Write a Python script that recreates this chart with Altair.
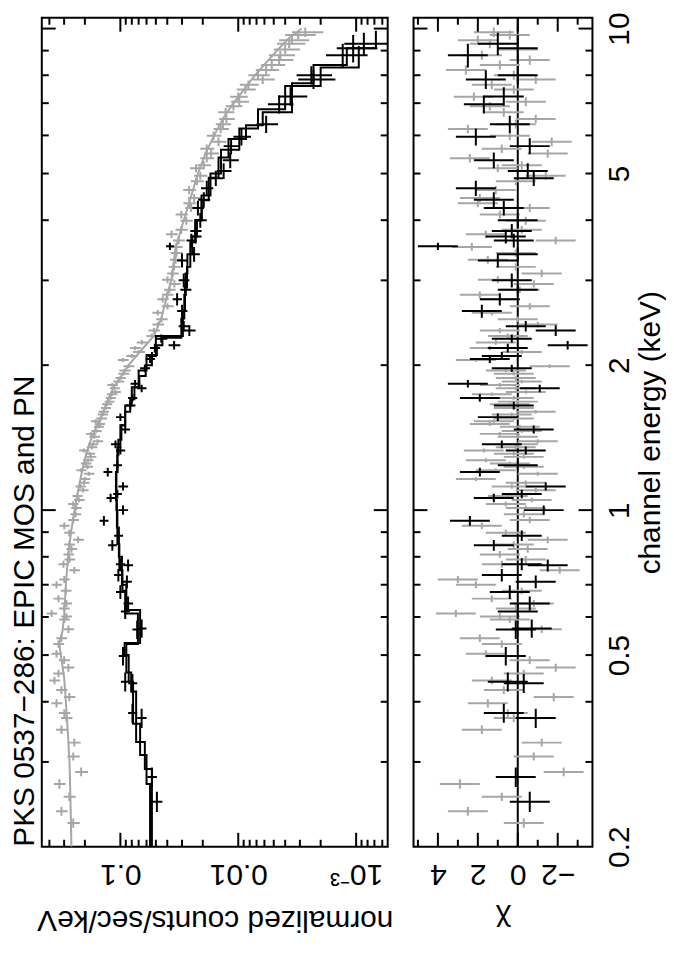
import altair as alt
import pandas as pd

FONT = "Liberation Sans"
FS = 30
GREY = "#a6a6a6"
BLACK = "#000000"

TITLE = "PKS 0537\u2212286: EPIC MOS and PN"
X_TITLE = "normalized counts/sec/keV"
CHI_TITLE = "\u03c7"
E_TITLE = "channel energy (keV)"

# axis ranges
E_DOMAIN = [0.2, 10.53]
C_DOMAIN = [0.00054, 0.464]
CHI_DOMAIN = [-3.74, 5.22]

# tick values
C_MAJOR = [0.1, 0.01, 0.001]
C_MINOR = [0.4, 0.3, 0.2, 0.09, 0.08, 0.07, 0.06, 0.05, 0.04, 0.03, 0.02,
           0.009, 0.008, 0.007, 0.006, 0.005, 0.004, 0.003, 0.002,
           0.0009, 0.0008, 0.0007, 0.0006]
E_MAJOR = [1, 10]
E_MINOR = [0.3, 0.4, 0.5, 0.6, 0.7, 0.8, 0.9, 2, 3, 4, 5, 6, 7, 8, 9]
E_LABELS = [0.2, 0.5, 1, 2, 5, 10]
CHI_MAJOR = [4, 2, 0, -2]
CHI_MINOR = [5, 3, 1, -1, -3]

# PN (grey) data: energy keV, half bin width, counts, counts error, chi
GREY_DATA = [
    (0.224, 0.005, 0.251, 0.030, -0.3), (0.237, 0.005, 0.316, 0.036, 2.5),
    (0.254, 0.005, 0.271, 0.032, 0.8), (0.270, 0.006, 0.329, 0.037, 2.9),
    (0.286, 0.006, 0.215, 0.027, -2.3), (0.308, 0.006, 0.251, 0.030, -0.8),
    (0.329, 0.006, 0.246, 0.029, -1.2), (0.350, 0.007, 0.316, 0.035, 1.8),
    (0.370, 0.007, 0.287, 0.032, 0.2), (0.379, 0.007, 0.299, 0.033, 0.5),
    (0.397, 0.008, 0.348, 0.037, 1.5), (0.409, 0.008, 0.271, 0.030, -1.8),
    (0.423, 0.008, 0.316, 0.034, 0.7), (0.443, 0.008, 0.362, 0.038, 1.3),
    (0.458, 0.008, 0.335, 0.036, -0.3), (0.471, 0.009, 0.276, 0.030, -1.9),
    (0.488, 0.009, 0.300, 0.032, -0.6), (0.503, 0.009, 0.348, 0.036, 1.6),
    (0.527, 0.009, 0.335, 0.035, 0.8), (0.542, 0.010, 0.316, 0.033, 1.9),
    (0.566, 0.010, 0.276, 0.029, -1.2), (0.593, 0.010, 0.299, 0.031, 0.4),
    (0.601, 0.010, 0.287, 0.030, 0.9), (0.610, 0.010, 0.383, 0.039, 3.1),
    (0.625, 0.010, 0.300, 0.031, 0.1), (0.640, 0.011, 0.287, 0.030, -0.8),
    (0.655, 0.011, 0.335, 0.034, 1.3), (0.680, 0.011, 0.290, 0.030, -0.2),
    (0.700, 0.012, 0.348, 0.035, 2.1), (0.718, 0.012, 0.299, 0.030, 3.0),
    (0.750, 0.012, 0.246, 0.026, -2.1), (0.772, 0.013, 0.304, 0.031, 0.8),
    (0.790, 0.013, 0.270, 0.028, -0.4), (0.809, 0.013, 0.276, 0.028, 0.9),
    (0.830, 0.014, 0.260, 0.027, -0.5), (0.848, 0.014, 0.271, 0.028, 0.2),
    (0.868, 0.014, 0.228, 0.024, -1.5), (0.897, 0.015, 0.271, 0.028, 0.6),
    (0.928, 0.015, 0.299, 0.030, 1.8), (0.954, 0.015, 0.251, 0.026, -0.6),
    (0.980, 0.015, 0.240, 0.025, -0.3), (1.010, 0.012, 0.237, 0.024, -0.4),
    (1.030, 0.012, 0.252, 0.025, 0.6), (1.050, 0.012, 0.224, 0.023, -0.7),
    (1.070, 0.012, 0.232, 0.023, 0.5), (1.100, 0.012, 0.207, 0.021, -0.9),
    (1.120, 0.012, 0.218, 0.022, 0.3), (1.140, 0.012, 0.204, 0.021, -0.4),
    (1.160, 0.012, 0.200, 0.020, 2.1), (1.190, 0.012, 0.185, 0.019, -1.0),
    (1.210, 0.012, 0.215, 0.021, 1.1), (1.230, 0.012, 0.190, 0.019, -0.3),
    (1.250, 0.012, 0.196, 0.020, 0.4), (1.270, 0.012, 0.188, 0.019, 1.6),
    (1.290, 0.012, 0.178, 0.018, -0.3), (1.310, 0.012, 0.182, 0.018, 0.2),
    (1.330, 0.013, 0.204, 0.020, 1.7), (1.350, 0.013, 0.175, 0.018, 0.1),
    (1.370, 0.013, 0.171, 0.017, 0.0), (1.390, 0.013, 0.156, 0.016, -1.0),
    (1.420, 0.013, 0.166, 0.017, 0.0), (1.440, 0.013, 0.178, 0.018, 0.9),
    (1.460, 0.013, 0.160, 0.016, -0.2), (1.490, 0.013, 0.153, 0.015, -0.1),
    (1.510, 0.014, 0.150, 0.015, 1.4), (1.530, 0.014, 0.162, 0.016, 1.2),
    (1.550, 0.014, 0.145, 0.015, 0.2), (1.580, 0.014, 0.141, 0.014, 0.3),
    (1.600, 0.014, 0.139, 0.014, -0.9), (1.630, 0.014, 0.133, 0.013, 0.2),
    (1.660, 0.014, 0.130, 0.013, 0.4), (1.680, 0.015, 0.124, 0.012, 0.0),
    (1.710, 0.015, 0.121, 0.012, 0.2), (1.740, 0.015, 0.118, 0.012, 1.3),
    (1.760, 0.015, 0.110, 0.011, -0.4), (1.790, 0.015, 0.112, 0.011, 0.1),
    (1.820, 0.016, 0.117, 0.012, 0.9), (1.850, 0.016, 0.104, 0.011, -0.2),
    (1.880, 0.016, 0.100, 0.010, 0.1), (1.920, 0.017, 0.094, 0.010, 0.2),
    (1.950, 0.017, 0.092, 0.010, 0.6), (1.990, 0.018, 0.085, 0.009, -1.6),
    (2.050, 0.020, 0.095, 0.010, 2.1), (2.090, 0.020, 0.080, 0.009, 0.8),
    (2.130, 0.020, 0.070, 0.008, -0.2), (2.170, 0.022, 0.075, 0.008, 1.4),
    (2.230, 0.025, 0.0656, 0.0072, 1.1), (2.300, 0.028, 0.0541, 0.0060, 0.5),
    (2.360, 0.030, 0.0520, 0.0058, 0.9), (2.430, 0.032, 0.0480, 0.0054, -1.0),
    (2.490, 0.035, 0.0447, 0.0050, 0.0), (2.570, 0.035, 0.0482, 0.0053, 1.3),
    (2.650, 0.040, 0.0398, 0.0045, -0.6), (2.740, 0.040, 0.0438, 0.0049, 0.9),
    (2.800, 0.045, 0.0400, 0.0045, 1.9), (2.870, 0.045, 0.0383, 0.0043, -0.1),
    (2.950, 0.050, 0.0348, 0.0040, -0.8), (3.010, 0.050, 0.0398, 0.0045, 1.0),
    (3.100, 0.055, 0.0360, 0.0041, -1.2), (3.200, 0.055, 0.0350, 0.0040, 0.1),
    (3.310, 0.060, 0.0340, 0.0039, 1.5), (3.420, 0.060, 0.0335, 0.0039, 0.1),
    (3.520, 0.065, 0.0335, 0.0039, 2.3), (3.630, 0.065, 0.0320, 0.0037, -1.9),
    (3.740, 0.070, 0.0368, 0.0042, 1.6), (3.820, 0.070, 0.0304, 0.0036, -0.2),
    (3.990, 0.075, 0.0276, 0.0033, -0.4), (4.110, 0.075, 0.0304, 0.0036, 0.9),
    (4.240, 0.080, 0.0251, 0.0031, -0.6), (4.340, 0.080, 0.0260, 0.0032, 2.0),
    (4.450, 0.085, 0.0237, 0.0030, 1.9), (4.620, 0.090, 0.0261, 0.0032, 1.1),
    (4.820, 0.090, 0.0224, 0.0028, 0.1), (4.950, 0.095, 0.0210, 0.0027, -1.4),
    (5.130, 0.100, 0.0228, 0.0029, 1.0), (5.200, 0.100, 0.0196, 0.0026, -0.2),
    (5.380, 0.110, 0.0185, 0.0025, 2.4), (5.500, 0.110, 0.0170, 0.0024, -1.5),
    (5.630, 0.115, 0.0185, 0.0025, 0.8), (5.820, 0.120, 0.0147, 0.0021, -1.7),
    (5.990, 0.120, 0.0162, 0.0023, 0.4), (6.190, 0.125, 0.0141, 0.0021, 2.5),
    (6.330, 0.130, 0.0135, 0.0020, 0.1), (6.490, 0.130, 0.0126, 0.0019, -0.9),
    (6.700, 0.140, 0.0128, 0.0020, 0.7), (6.900, 0.140, 0.0110, 0.0018, 1.4),
    (7.050, 0.150, 0.0098, 0.0017, -0.4), (7.220, 0.150, 0.0100, 0.0017, 2.2),
    (7.470, 0.160, 0.0087, 0.0016, 0.2), (7.640, 0.160, 0.0082, 0.0015, 1.3),
    (7.840, 0.170, 0.0062, 0.0013, -0.9), (8.000, 0.170, 0.0068, 0.0014, 0.2),
    (8.200, 0.180, 0.0058, 0.0013, 2.6), (8.400, 0.180, 0.0052, 0.0012, 0.9),
    (8.600, 0.190, 0.0045, 0.0011, -0.6), (8.800, 0.190, 0.0044, 0.0011, 1.8),
    (9.050, 0.200, 0.0040, 0.0010, 0.0), (9.300, 0.200, 0.0037, 0.0010, 1.4),
    (9.460, 0.210, 0.0035, 0.0010, 2.0), (9.700, 0.210, 0.0031, 0.0009, 0.4),
    (9.830, 0.220, 0.0027, 0.0008, 1.2),
]

# PN model curve
GREY_MODEL_E = [0.2, 0.25, 0.3, 0.35, 0.4, 0.45, 0.5, 0.53, 0.56, 0.6, 0.7, 0.8,
                0.9, 1.0, 1.1, 1.2, 1.3, 1.4, 1.5, 1.6, 1.7, 1.8, 1.9, 2.0, 2.1,
                2.2, 2.3, 2.5, 2.8, 3.0, 3.5, 4.0, 4.5, 5.0, 5.5, 6.0, 6.5, 7.0,
                7.5, 8.0, 8.5, 9.0, 9.5, 10.0]
GREY_MODEL_C = [0.26, 0.265, 0.27, 0.28, 0.29, 0.30, 0.32, 0.33, 0.31, 0.30, 0.29,
                0.278, 0.262, 0.245, 0.228, 0.212, 0.196, 0.178, 0.158, 0.14,
                0.127, 0.114, 0.098, 0.085, 0.072, 0.061, 0.052, 0.045, 0.040,
                0.037, 0.034, 0.029, 0.025, 0.022, 0.019, 0.016, 0.0135, 0.011,
                0.0088, 0.0072, 0.0058, 0.0047, 0.0038, 0.0029]

# MOS (black) data: energy keV, half bin width, counts, counts error, chi
BLACK_DATA = [
    (0.248, 0.012, 0.049, 0.005, -0.6), (0.279, 0.013, 0.054, 0.005, 0.1),
    (0.370, 0.017, 0.066, 0.006, -0.9), (0.379, 0.017, 0.079, 0.007, 0.7),
    (0.437, 0.020, 0.079, 0.007, -0.3), (0.440, 0.020, 0.091, 0.008, 0.5),
    (0.498, 0.022, 0.095, 0.008, 0.6), (0.565, 0.025, 0.072, 0.007, 0.1),
    (0.568, 0.025, 0.066, 0.006, -0.7), (0.616, 0.022, 0.091, 0.008, 0.0),
    (0.640, 0.022, 0.086, 0.008, -0.6), (0.676, 0.022, 0.100, 0.009, 0.4),
    (0.710, 0.022, 0.088, 0.008, -0.9), (0.733, 0.022, 0.104, 0.009, 0.8),
    (0.768, 0.022, 0.086, 0.008, -1.5), (0.772, 0.022, 0.100, 0.009, -0.2),
    (0.845, 0.022, 0.117, 0.010, 1.2), (0.885, 0.022, 0.104, 0.009, -0.2),
    (0.950, 0.022, 0.138, 0.012, 2.4), (1.000, 0.022, 0.095, 0.009, -1.3),
    (1.060, 0.022, 0.121, 0.010, 1.2), (1.080, 0.022, 0.106, 0.009, -0.2),
    (1.120, 0.022, 0.095, 0.009, -1.4), (1.200, 0.025, 0.128, 0.011, 1.9),
    (1.240, 0.025, 0.106, 0.009, 0.0), (1.330, 0.025, 0.100, 0.009, -0.4),
    (1.370, 0.025, 0.110, 0.010, 0.8), (1.470, 0.028, 0.091, 0.008, -0.8),
    (1.560, 0.028, 0.100, 0.009, 1.0), (1.650, 0.030, 0.0825, 0.008, 0.2),
    (1.710, 0.030, 0.079, 0.007, 1.9), (1.790, 0.032, 0.066, 0.006, -1.1),
    (1.830, 0.032, 0.075, 0.007, 2.5), (1.970, 0.035, 0.062, 0.006, 0.3),
    (2.060, 0.040, 0.056, 0.005, 1.4), (2.090, 0.040, 0.054, 0.005, 0.8),
    (2.170, 0.045, 0.051, 0.005, 0.5), (2.200, 0.045, 0.035, 0.004, -2.5),
    (2.270, 0.045, 0.045, 0.005, 0.3), (2.360, 0.060, 0.026, 0.003, -1.9),
    (2.410, 0.060, 0.029, 0.003, -0.4), (2.590, 0.080, 0.030, 0.003, 1.8),
    (2.740, 0.080, 0.033, 0.003, 0.9), (2.870, 0.090, 0.028, 0.003, 0.0),
    (3.000, 0.100, 0.029, 0.003, 0.3), (3.300, 0.110, 0.030, 0.003, 1.0),
    (3.400, 0.120, 0.0237, 0.0025, 0.0), (3.530, 0.060, 0.038, 0.003, 4.0),
    (3.630, 0.120, 0.025, 0.0025, 0.2), (3.700, 0.120, 0.023, 0.0025, 0.6),
    (3.800, 0.130, 0.023, 0.0025, 0.3), (4.000, 0.140, 0.021, 0.0025, 0.0),
    (4.240, 0.150, 0.022, 0.0025, 0.7), (4.410, 0.160, 0.0196, 0.0023, 1.2),
    (4.660, 0.170, 0.0185, 0.0022, 2.1), (4.890, 0.180, 0.0155, 0.0020, -0.8),
    (5.060, 0.190, 0.0133, 0.0019, -0.5), (5.330, 0.200, 0.0117, 0.0018, 1.2),
    (5.700, 0.220, 0.0115, 0.0018, -0.6), (5.960, 0.240, 0.0094, 0.0016, 2.1),
    (6.330, 0.260, 0.0058, 0.0012, 0.4), (6.960, 0.300, 0.0045, 0.0011, 1.7),
    (7.230, 0.320, 0.0036, 0.0010, 0.7), (7.840, 0.350, 0.0023, 0.0008, 1.6),
    (8.000, 0.350, 0.0024, 0.0008, 0.0), (8.800, 0.500, 0.0013, 0.0005, 2.5),
    (9.100, 0.600, 0.00106, 0.0004, 0.0), (9.300, 0.500, 0.00086, 0.0004, 1.0),
]

# MOS folded models (step histograms): bin edges and values
M1_EDGES = [0.20, 0.29, 0.33, 0.42, 0.46, 0.527, 0.61, 0.68, 0.75, 0.85,
            1.0, 1.1, 1.2, 1.3, 1.4, 1.5, 1.6, 1.7, 1.8, 1.9,
            2.0, 2.1, 2.2, 2.28, 2.5, 2.8, 3.1, 3.4, 3.7, 4.0,
            4.4, 4.9, 5.4, 5.9, 6.3, 6.7, 7.7, 8.4, 9.1, 9.9]
M1_VALUES = [0.054, 0.062, 0.0735, 0.081, 0.089, 0.071, 0.091, 0.096, 0.102,
             0.106, 0.108, 0.108, 0.106, 0.104, 0.098, 0.091, 0.0825, 0.076,
             0.069, 0.061, 0.054, 0.049, 0.044, 0.0304, 0.0287, 0.028, 0.027,
             0.0246, 0.0224, 0.0204, 0.0178, 0.0147, 0.0121, 0.0086, 0.0062,
             0.0035, 0.0023, 0.0012, 0.00068]
M2_EDGES = [0.20, 0.27, 0.31, 0.36, 0.44, 0.50, 0.53, 0.62, 0.70, 0.80, 0.92,
            1.05, 1.2, 1.35, 1.5, 1.65, 1.8, 1.95, 2.1, 2.3, 2.6, 2.9, 3.2,
            3.6, 4.0, 4.5, 5.0, 5.6, 6.2, 6.8, 7.6, 8.3, 9.2]
M2_VALUES = [0.056, 0.060, 0.068, 0.078, 0.085, 0.092, 0.068, 0.089, 0.097,
             0.103, 0.107, 0.109, 0.106, 0.100, 0.091, 0.080, 0.070, 0.060,
             0.050, 0.0295, 0.0283, 0.0272, 0.0255, 0.0232, 0.0205, 0.0172,
             0.0140, 0.0098, 0.0068, 0.0040, 0.0020, 0.00095]

W1, W2, H = 348, 180, 834
SPACING = 17
MAJ, MIN = 14, 7


def cross_table(rows):
    df = pd.DataFrame(rows, columns=["E", "dE", "c", "err", "chi"])
    df["E_lo"] = df["E"] - df["dE"]
    df["E_hi"] = df["E"] + df["dE"]
    df["c_lo"] = df["c"] - df["err"]
    df["c_hi"] = df["c"] + df["err"]
    df["chi_lo"] = df["chi"] - 1
    df["chi_hi"] = df["chi"] + 1
    return df


def step_table(edges, values):
    pts = []
    for i, v in enumerate(values):
        pts.append({"E": edges[i], "c": v, "k": 2 * i})
        pts.append({"E": edges[i + 1], "c": v, "k": 2 * i + 1})
    return pd.DataFrame(pts)


grey = cross_table(GREY_DATA)
black = cross_table(BLACK_DATA)
grey_model = pd.DataFrame({"E": GREY_MODEL_E, "c": GREY_MODEL_C,
                           "k": list(range(len(GREY_MODEL_E)))})
m1 = step_table(M1_EDGES, M1_VALUES)
m2 = step_table(M2_EDGES, M2_VALUES)

c_scale = alt.Scale(type="log", domain=C_DOMAIN, reverse=True, nice=False)
e_scale = alt.Scale(type="log", domain=E_DOMAIN, nice=False)
chi_scale = alt.Scale(domain=CHI_DOMAIN, reverse=True, nice=False, zero=False)


def frame_ticks(xscale, xmaj, xmin, ymaj, ymin, width):
    """Inward frame ticks on all four sides, drawn as rules on the scales."""
    out = []
    for vals, size in ((xmaj, MAJ), (xmin, MIN)):
        df = pd.DataFrame({"t": vals})
        for y0, y1 in ((0, size), (H - size, H)):
            out.append(alt.Chart(df).mark_rule(color=BLACK, strokeWidth=2).encode(
                x=alt.X("t:Q", scale=xscale, axis=None),
                y=alt.value(y0), y2=alt.value(y1)))
    for vals, size in ((ymaj, MAJ), (ymin, MIN)):
        df = pd.DataFrame({"t": vals})
        for x0, x1 in ((0, size), (width - size, width)):
            out.append(alt.Chart(df).mark_rule(color=BLACK, strokeWidth=2).encode(
                y=alt.Y("t:Q", scale=e_scale, axis=None),
                x=alt.value(x0), x2=alt.value(x1)))
    return out


def cx(field):
    return alt.X(field, type="quantitative", scale=c_scale, axis=None)


def ey(field):
    return alt.Y(field, type="quantitative", scale=e_scale, axis=None)


def rx(field):
    return alt.X(field, type="quantitative", scale=chi_scale, axis=None)


LABEL_STYLE = dict(labelFontSize=FS, labelFont=FONT, labelColor="black",
                   labelFlush=False, labelOverlap=False, ticks=False,
                   domain=False, grid=False, titleFontSize=FS, titleFont=FONT,
                   titleFontWeight="normal", titleColor="black", minExtent=0)

# ---------------- spectrum panel ----------------
spec_layers = []
spec_layers.append(
    alt.Chart(pd.DataFrame({"lx": [0.01]})).mark_point(opacity=0).encode(
        x=alt.X("lx:Q", scale=c_scale, axis=alt.Axis(
            orient="bottom", values=C_MAJOR,
            labelExpr="datum.value > 0.05 ? '0.1' : (datum.value > 0.005 ? '0.01' : '10\u207b\u00b3')",
            labelAngle=180, labelAlign="center", labelBaseline="bottom",
            labelPadding=12,
            title=X_TITLE, titleAngle=180, titleBaseline="bottom",
            titleAlign="center", titlePadding=16, **LABEL_STYLE)),
    ))
spec_layers.append(
    alt.Chart(pd.DataFrame({"t": [TITLE]})).mark_text(
        angle=270, align="left", baseline="alphabetic", fontSize=FS,
        font=FONT, color="black").encode(
        text="t:N", x=alt.value(-8), y=alt.value(H)))
spec_layers.append(
    alt.Chart(grey_model).mark_line(color=GREY, strokeWidth=2, clip=True).encode(
        x=cx("c"), y=ey("E"), order=alt.Order("k:Q")))
spec_layers.append(
    alt.Chart(grey).mark_rule(color=GREY, strokeWidth=2, clip=True).encode(
        x=cx("c_lo"), x2="c_hi", y=ey("E")))
spec_layers.append(
    alt.Chart(grey).mark_rule(color=GREY, strokeWidth=2, clip=True).encode(
        x=cx("c"), y=ey("E_lo"), y2="E_hi"))
for m in (m1, m2):
    spec_layers.append(
        alt.Chart(m).mark_line(color=BLACK, strokeWidth=2, clip=True).encode(
            x=cx("c"), y=ey("E"), order=alt.Order("k:Q")))
spec_layers.append(
    alt.Chart(black).mark_rule(color=BLACK, strokeWidth=2, clip=True).encode(
        x=cx("c_lo"), x2="c_hi", y=ey("E")))
spec_layers.append(
    alt.Chart(black).mark_rule(color=BLACK, strokeWidth=2, clip=True).encode(
        x=cx("c"), y=ey("E_lo"), y2="E_hi"))
spec_layers += frame_ticks(c_scale, C_MAJOR, C_MINOR, E_MAJOR, E_MINOR, W1)

spectrum = alt.layer(*spec_layers).resolve_axis(
    x="independent", y="independent"
).properties(width=W1, height=H)

# ---------------- residual panel ----------------
res_layers = []
res_layers.append(
    alt.Chart(pd.DataFrame({"lx": [0], "ly": [1.0]})).mark_point(opacity=0).encode(
        x=alt.X("lx:Q", scale=chi_scale, axis=alt.Axis(
            orient="bottom", values=CHI_MAJOR, format="d",
            labelAngle=180, labelAlign="center", labelBaseline="bottom",
            labelPadding=12,
            title=CHI_TITLE, titleAngle=180, titleBaseline="bottom",
            titleAlign="center", titlePadding=16, **LABEL_STYLE)),
        y=alt.Y("ly:Q", scale=e_scale, axis=alt.Axis(
            orient="right", values=E_LABELS,
            labelExpr="format(datum.value, '~g')",
            labelAngle=270, labelAlign="center", labelBaseline="top",
            labelPadding=12,
            title=E_TITLE, titleAngle=270, titleBaseline="top",
            titleAlign="center", titlePadding=1, **LABEL_STYLE)),
    ))
res_layers.append(
    alt.Chart(pd.DataFrame({"z": [0]})).mark_rule(color=BLACK, strokeWidth=2).encode(
        x=rx("z")))
res_layers.append(
    alt.Chart(grey).mark_rule(color=GREY, strokeWidth=2, clip=True).encode(
        x=rx("chi_lo"), x2="chi_hi", y=ey("E")))
res_layers.append(
    alt.Chart(grey).mark_rule(color=GREY, strokeWidth=2, clip=True).encode(
        x=rx("chi"), y=ey("E_lo"), y2="E_hi"))
res_layers.append(
    alt.Chart(black).mark_rule(color=BLACK, strokeWidth=2, clip=True).encode(
        x=rx("chi_lo"), x2="chi_hi", y=ey("E")))
res_layers.append(
    alt.Chart(black).mark_rule(color=BLACK, strokeWidth=2, clip=True).encode(
        x=rx("chi"), y=ey("E_lo"), y2="E_hi"))
res_layers += frame_ticks(chi_scale, CHI_MAJOR, CHI_MINOR, E_MAJOR, E_MINOR, W2)

residuals = alt.layer(*res_layers).resolve_axis(
    x="independent", y="independent"
).properties(width=W2, height=H)

chart = alt.hconcat(spectrum, residuals, spacing=SPACING).properties(
    padding={"left": 0, "right": 0, "top": 0, "bottom": 0}
).configure(
    font=FONT,
    view=alt.ViewConfig(stroke="black", strokeWidth=2),
    axis=alt.AxisConfig(minExtent=0),
)

chart.save("out.html", embed_options={"renderer": "svg", "actions": False})
